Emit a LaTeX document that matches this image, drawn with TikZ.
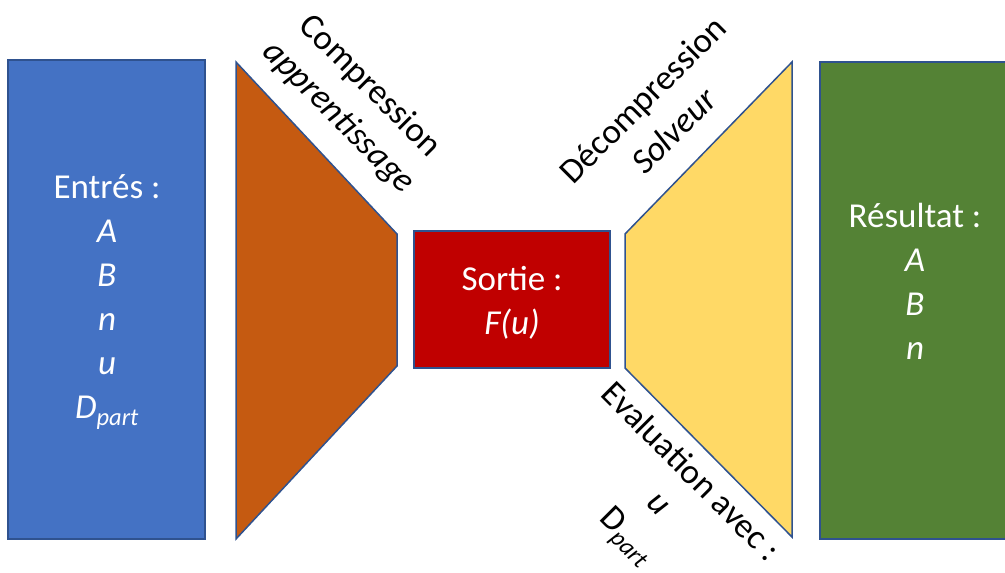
\documentclass[tikz,border=0pt]{standalone}
\usepackage{fontspec}
\setmainfont{Carlito}
\definecolor{cblue}{HTML}{4472C4}
\definecolor{corange}{HTML}{C55A11}
\definecolor{cred}{HTML}{C00000}
\definecolor{cyellow}{HTML}{FFD966}
\definecolor{cgreen}{HTML}{548235}
\definecolor{cborder}{HTML}{2F528F}
\begin{document}
\begin{tikzpicture}[x=1pt,y=-1pt,
  shapebox/.style={draw=cborder,line width=1.5pt},
  wtext/.style={text=white,align=center,font=\fontsize{35}{44}\selectfont,inner sep=0pt},
  btext/.style={text=black,align=center,font=\fontsize{35}{44}\selectfont,inner sep=0pt}]
\useasboundingbox (0,0) rectangle (1005,573);
% blocks
\draw[shapebox,fill=cblue] (8,60) rectangle (205,539);
\draw[shapebox,fill=corange] (236,62) -- (397,234) -- (397,366) -- (236,539) -- cycle;
\draw[shapebox,fill=cred] (414,231) rectangle (610,368);
\draw[shapebox,fill=cyellow] (625,234) -- (792,62) -- (792,537) -- (625,368) -- cycle;
\draw[shapebox,fill=cgreen] (820,62) rectangle (1010,539);
% texts
\node[wtext] (inp) at (107,302) {Entrés :\\\textit{A}\\\textit{B}\\\textit{n}\\\textit{u}\\\textit{D\textsubscript{part}}};
\node[wtext] (out) at (512,303) {Sortie :\\\textit{F(u)}};
\node[wtext] (res) at (915,281) {Résultat :\\\textit{A}\\\textit{B}\\\textit{n}};
\node[btext,rotate=-45] (comp) at (354,102) {Compression\\\textit{apprentissage}};
\node[btext,rotate=45] (decomp) at (658,115) {Décompression\\\textit{Solveur}};
\node[btext,rotate=-45] (eval) at (657,506) {Evaluation avec :\\\textit{u}\\D\textsubscript{\textit{part}}};
\end{tikzpicture}
\end{document}
